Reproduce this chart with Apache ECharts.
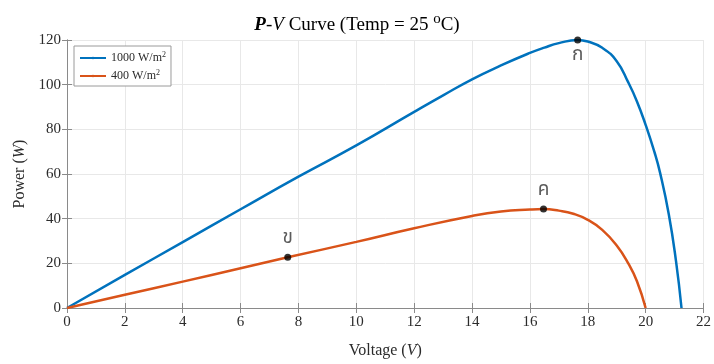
<!DOCTYPE html>
<html>
<head>
<meta charset="utf-8">
<script src="https://cdn.jsdelivr.net/npm/echarts@6/dist/echarts.min.js"></script>
<style>
  html, body { margin: 0; padding: 0; background: #fff; }
  #chart { width: 714px; height: 364px; }
</style>
</head>
<body>
<div id="chart"></div>
<script>
// P-V curves of a PV module at two irradiance levels
const voltage1000 = [0, 2, 4, 6, 8, 10, 12, 13, 14, 15, 16, 16.5, 17, 17.65, 18, 18.5, 19, 19.4, 19.7, 20, 20.3, 20.5, 20.8, 21.05, 21.24];
const power1000   = [0, 14.8, 29.5, 44.2, 58.8, 72.8, 87.8, 95.2, 102.4, 108.6, 114.2, 116.6, 118.6, 120, 119.3, 116.5, 110.5, 101, 92.5, 82, 70, 60.5, 42, 21, 0];

const voltage400 = [0, 2, 4, 6, 7.63, 10, 12, 14, 15, 16, 16.47, 17, 17.5, 18, 18.5, 19, 19.4, 19.7, 20];
const power400   = [0, 5.9, 11.8, 17.8, 22.7, 29.6, 35.7, 41.2, 43.2, 44.1, 44.3, 43.6, 42.2, 39.5, 35, 28, 20, 12, 0];

// marked operating points
const pointNames = ['ก', 'ข', 'ค'];
const pointV = [17.65, 7.63, 16.47];
const pointP = [120, 22.7, 44.3];

const seriesNames = ['1000 W/m2', '400 W/m2'];
const xTicks = [0, 2, 4, 6, 8, 10, 12, 14, 16, 18, 20, 22];
const yTicks = [0, 20, 40, 60, 80, 100, 120];

const serif = '"Liberation Serif", "Times New Roman", serif';
const thai = '"Noto Sans Thai", "Noto Sans", "DejaVu Sans", sans-serif';
const axisColor = '#8a8a8a';
const textColor = '#2b2b2b';

const pairs = (xs, ys) => xs.map((v, i) => [v, ys[i]]);

const baseAxis = {
  type: 'value',
  axisLine: { show: true, lineStyle: { color: axisColor, width: 1 } },
  axisTick: { show: true, inside: true, length: 5, lineStyle: { color: axisColor } },
  splitLine: { show: false },
  axisLabel: { show: false }
};

const chart = echarts.init(document.getElementById('chart'));
chart.setOption({
  animation: false,
  backgroundColor: '#fff',
  title: {
    text: '{b|P}{n|-}{i|V}{n| Curve (Temp = 25 }{s|o}{n|C)}',
    left: 'center',
    top: 7,
    textStyle: {
      fontWeight: 'normal',
      rich: {
        b: { fontFamily: serif, fontSize: 19, fontWeight: 'bold', fontStyle: 'italic', color: '#000' },
        i: { fontFamily: serif, fontSize: 19, fontWeight: 'normal', fontStyle: 'italic', color: '#000' },
        n: { fontFamily: serif, fontSize: 19, fontWeight: 'normal', color: '#000' },
        s: { fontFamily: serif, fontSize: 15, fontWeight: 'normal', color: '#000', verticalAlign: 'top', padding: [0, 0, 11, 0] }
      }
    }
  },
  legend: {
    orient: 'vertical',
    left: 74,
    top: 46,
    data: seriesNames,
    itemWidth: 26,
    itemHeight: 3,
    itemGap: 5,
    padding: [5, 5, 4, 5],
    backgroundColor: '#fff',
    borderColor: '#9a9a9a',
    borderWidth: 1,
    borderRadius: 0,
    formatter: name => '{t|' + name.slice(0, -1) + '}{s|2}',
    textStyle: {
      rich: {
        t: { fontFamily: serif, fontSize: 12, color: textColor },
        s: { fontFamily: serif, fontSize: 8, color: textColor, verticalAlign: 'top', padding: [0, 0, 6, 0] }
      }
    }
  },
  grid: { left: 67, right: 8.5, top: 40, bottom: 51.5, containLabel: false },
  xAxis: [
    Object.assign({}, baseAxis, {
      min: 0, max: 22, interval: 2,
      name: '{n|Voltage (}{i|V}{n|)}',
      nameLocation: 'middle',
      nameGap: 35,
      nameTextStyle: {
        rich: {
          n: { fontFamily: serif, fontSize: 16, color: textColor },
          i: { fontFamily: serif, fontSize: 16, fontStyle: 'italic', color: textColor }
        }
      },
      splitLine: { show: true, lineStyle: { color: '#e8e8e8', width: 1 } },
      axisLabel: {
        show: true, fontFamily: serif, fontSize: 15, color: textColor, margin: 7,
        formatter: v => xTicks.includes(v) ? String(v) : ''
      }
    }),
    Object.assign({}, baseAxis, { position: 'top', min: 0, max: 22, interval: 2 })
  ],
  yAxis: [
    Object.assign({}, baseAxis, {
      min: 0, max: 120, interval: 20,
      name: '{n|Power (}{i|W}{n|)}',
      nameLocation: 'middle',
      nameGap: 35,
      nameTextStyle: {
        rich: {
          n: { fontFamily: serif, fontSize: 16, color: textColor },
          i: { fontFamily: serif, fontSize: 16, fontStyle: 'italic', color: textColor }
        }
      },
      splitLine: { show: true, lineStyle: { color: '#e8e8e8', width: 1 } },
      axisLabel: {
        show: true, fontFamily: serif, fontSize: 15, color: textColor, margin: 6,
        formatter: v => yTicks.includes(v) ? String(v) : ''
      }
    }),
    Object.assign({}, baseAxis, { position: 'right', min: 0, max: 120, interval: 20 })
  ],
  series: [
    {
      name: seriesNames[0],
      type: 'line',
      data: pairs(voltage1000, power1000),
      smooth: 0.5,
      showSymbol: false,
      symbol: 'none',
      lineStyle: { color: '#0072BD', width: 2.5 },
      itemStyle: { color: '#0072BD' },
      z: 3
    },
    {
      name: seriesNames[1],
      type: 'line',
      data: pairs(voltage400, power400),
      smooth: 0.5,
      showSymbol: false,
      symbol: 'none',
      lineStyle: { color: '#D95319', width: 2.5 },
      itemStyle: { color: '#D95319' },
      z: 3
    },
    {
      name: 'points',
      type: 'scatter',
      symbolSize: 7,
      itemStyle: { color: '#000' },
      z: 5,
      data: pointNames.map((n, i) => ({
        value: [pointV[i], pointP[i]],
        name: n,
        label: {
          show: true,
          formatter: '{b}',
          position: i === 0 ? 'bottom' : 'top',
          distance: i === 0 ? 3 : 5,
          fontFamily: thai,
          fontSize: 19,
          color: '#333'
        }
      }))
    }
  ]
});
</script>
</body>
</html>
